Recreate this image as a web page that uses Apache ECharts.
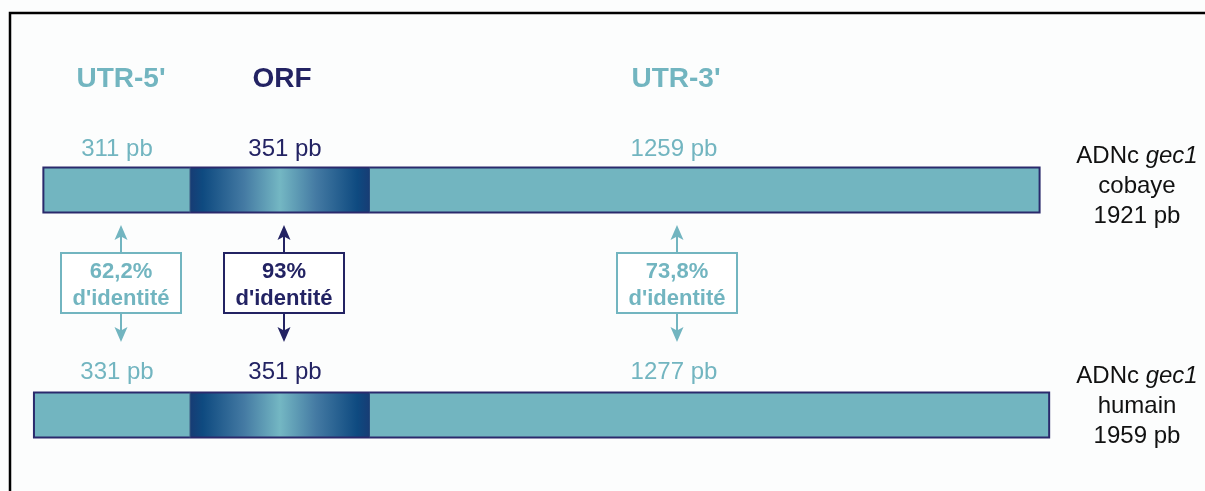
<!DOCTYPE html>
<html>
<head>
<meta charset="utf-8">
<script src="https://cdn.jsdelivr.net/npm/echarts@6/dist/echarts.min.js"></script>
<style>html,body{margin:0;padding:0;background:#fcfdfd;}#main{width:1205px;height:491px;}</style>
</head>
<body>
<div id="main"></div>
<script>
// ---- data ----
const segments = ["UTR-5'", "ORF", "UTR-3'"];
const species = ['cobaye', 'humain'];
const cobayePb = [311, 351, 1259];
const humainPb = [331, 351, 1277];
const totalPb = [1921, 1959];
const identity = [62.2, 93, 73.8];

// ---- styling / layout ----
const TEAL = '#72b5c0';
const NAVY = '#232363';
const segColor = [TEAL, NAVY, TEAL];
const FONT = '"Liberation Sans", Arial, sans-serif';
const headerX = [121, 282, 676];
const labelX = [117, 285, 674];
const boxX = [121, 284, 677];
const BAR_H = 45;

const chart = echarts.init(document.getElementById('main'));

const orfGradient = {
  type: 'linear', x: 0, y: 0, x2: 1, y2: 0,
  colorStops: [
    { offset: 0, color: '#173c74' },
    { offset: 0.07, color: '#0e4a80' },
    { offset: 0.3, color: '#447aa3' },
    { offset: 0.5, color: '#74b7c3' },
    { offset: 0.7, color: '#447aa3' },
    { offset: 0.93, color: '#0e4a80' },
    { offset: 1, color: '#173c74' }
  ]
};

function makeRender(segIndex) {
  return function (params, api) {
    const v = api.value(0);
    const row = api.value(1);
    const p0 = api.coord([0, row]);
    const p1 = api.coord([v, row]);
    const x0 = Math.min(p0[0], p1[0]);
    const x1 = Math.max(p0[0], p1[0]);
    const y0 = p0[1] - BAR_H / 2;
    const y1 = y0 + BAR_H;
    const children = [{
      type: 'rect',
      shape: { x: x0, y: y0, width: x1 - x0, height: BAR_H },
      style: { fill: segIndex === 1 ? orfGradient : TEAL }
    }];
    const edge = { stroke: '#2a2a6c', lineWidth: 2, fill: null };
    if (segIndex === 0) {
      children.push({ type: 'polyline', shape: { points: [[x1, y0], [x0, y0], [x0, y1], [x1, y1]] }, style: edge });
    } else if (segIndex === 2) {
      children.push({ type: 'polyline', shape: { points: [[x0, y0], [x1, y0], [x1, y1], [x0, y1]] }, style: edge });
    } else {
      children.push({ type: 'line', shape: { x1: x0, y1: y0, x2: x1, y2: y0 }, style: edge });
      children.push({ type: 'line', shape: { x1: x0, y1: y1, x2: x1, y2: y1 }, style: edge });
      children.push({ type: 'line', shape: { x1: x0, y1: y0, x2: x0, y2: y1 }, style: { stroke: '#3b5a82', lineWidth: 1 } });
      children.push({ type: 'line', shape: { x1: x1, y1: y0, x2: x1, y2: y1 }, style: { stroke: '#3b5a82', lineWidth: 1 } });
    }
    return { type: 'group', children: children };
  };
}

const grids = [
  { left: 0, width: 190, top: 190, height: 225 },
  { left: 190, width: 180, top: 190, height: 225 },
  { left: 370, width: 835, top: 190, height: 225 }
];
const axisMax = [403, 351, 1570];

const series = segments.map(function (name, i) {
  return {
    type: 'custom',
    name: name,
    xAxisIndex: i,
    yAxisIndex: i,
    encode: { x: 0, y: 1 },
    renderItem: makeRender(i),
    data: [[cobayePb[i], 0], [humainPb[i], 1]],
    silent: true
  };
});

// ---- annotations ----
const graphics = [];
graphics.push({
  type: 'polyline', shape: { points: [[10, 491], [10, 13], [1205, 13]] },
  style: { stroke: '#000', lineWidth: 2.5, fill: null }, z: 10
});
segments.forEach(function (name, i) {
  const c = segColor[i];
  graphics.push({ type: 'text', x: headerX[i], y: 79,
    style: { text: name, fill: c, font: 'bold 28px ' + FONT, align: 'center', verticalAlign: 'middle' } });
  graphics.push({ type: 'text', x: labelX[i], y: 149,
    style: { text: cobayePb[i] + ' pb', fill: c, font: '24px ' + FONT, align: 'center', verticalAlign: 'middle' } });
  graphics.push({ type: 'text', x: labelX[i], y: 372,
    style: { text: humainPb[i] + ' pb', fill: c, font: '24px ' + FONT, align: 'center', verticalAlign: 'middle' } });
  const bx = boxX[i];
  // arrows
  graphics.push({ type: 'line', shape: { x1: bx, y1: 236, x2: bx, y2: 253 }, style: { stroke: c, lineWidth: 2 } });
  graphics.push({ type: 'polygon', shape: { points: [[bx, 225], [bx + 6.5, 240], [bx, 236.5], [bx - 6.5, 240]] }, style: { fill: c } });
  graphics.push({ type: 'line', shape: { x1: bx, y1: 313, x2: bx, y2: 331 }, style: { stroke: c, lineWidth: 2 } });
  graphics.push({ type: 'polygon', shape: { points: [[bx, 342], [bx + 6.5, 327], [bx, 330.5], [bx - 6.5, 327]] }, style: { fill: c } });
  // box
  graphics.push({ type: 'rect', shape: { x: bx - 60, y: 253, width: 120, height: 60 },
    style: { fill: '#ffffff', stroke: c, lineWidth: 2 } });
  graphics.push({ type: 'text', x: bx, y: 285,
    style: { text: String(identity[i]).replace('.', ',') + '%\nd\'identité', fill: c,
      font: 'bold 22px ' + FONT, lineHeight: 27, align: 'center', verticalAlign: 'middle' } });
});
species.forEach(function (sp, r) {
  graphics.push({ type: 'text', x: 1137, y: r === 0 ? 186 : 406,
    style: {
      text: '{n|ADNc }{i|gec1}\n{n|' + sp + '}\n{n|' + totalPb[r] + ' pb}',
      align: 'center', verticalAlign: 'middle', fill: '#111',
      rich: {
        n: { font: '24px ' + FONT, fill: '#111', lineHeight: 30 },
        i: { font: 'italic 24px ' + FONT, fill: '#111', lineHeight: 30 }
      }
    } });
});

chart.setOption({
  backgroundColor: '#fcfdfd',
  animation: false,
  grid: grids,
  xAxis: axisMax.map(function (m, i) {
    return { gridIndex: i, type: 'value', min: 0, max: m, inverse: i === 0, show: false };
  }),
  yAxis: segments.map(function (s, i) {
    return { gridIndex: i, type: 'category', data: species, inverse: true, boundaryGap: false, show: false };
  }),
  series: series,
  graphic: graphics
});
</script>
</body>
</html>
